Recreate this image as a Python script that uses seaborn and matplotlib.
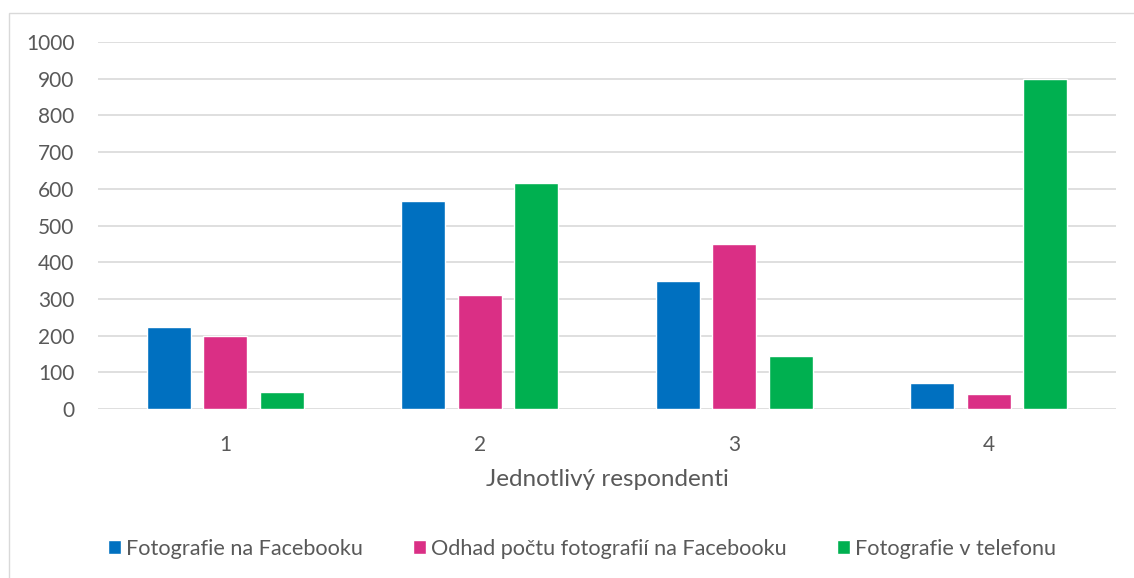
import pandas as pd
import seaborn as sns
import matplotlib.pyplot as plt
from matplotlib.patches import Rectangle

# data
respondents = ['1', '2', '3', '4']
series_names = ['Fotografie na Facebooku', 'Odhad počtu fotografií na Facebooku', 'Fotografie v telefonu']
fb_photos = [223, 568, 350, 70]
fb_estimate = [200, 310, 450, 40]
phone_photos = [45, 617, 145, 900]
colors = ['#0070C0', '#DA2F85', '#00B050']

rows = []
for name, vals in zip(series_names, [fb_photos, fb_estimate, phone_photos]):
    for r, v in zip(respondents, vals):
        rows.append({'Respondent': r, 'Series': name, 'Value': v})
df = pd.DataFrame(rows)

sns.set_style('white')
plt.rcParams['font.family'] = ['Lato', 'DejaVu Sans']

fig = plt.figure(figsize=(11.34, 5.78), dpi=100)
ax = fig.add_axes([98 / 1134, 1 - 409 / 578, (1116 - 98) / 1134, (409 - 42) / 578])

sns.barplot(data=df, x='Respondent', y='Value', hue='Series', palette=colors,
            saturation=1, width=0.666, gap=0.22, ax=ax, legend=True)

ax.set_ylim(0, 1000)
ax.set_xlim(-0.5, 3.5)
ax.set_yticks(range(0, 1001, 100))
ax.yaxis.grid(True, color='#d9d9d9', linewidth=1.2)
ax.set_axisbelow(True)
for s in ax.spines.values():
    s.set_visible(False)
ax.tick_params(axis='both', length=0, labelsize=15, colors='#595959')
ax.tick_params(axis='y', pad=17)
ax.tick_params(axis='x', pad=18.5)
ax.set_xlabel('Jednotlivý respondenti', fontsize=17.5, color='#595959', labelpad=10)
ax.set_ylabel('')

handles, labels = ax.get_legend_handles_labels()
ax.legend(handles, labels, loc='center', bbox_to_anchor=(582 / 1134, 1 - 549 / 578),
          bbox_transform=fig.transFigure, ncol=3, frameon=False, fontsize=15.6,
          labelcolor='#595959', handlelength=0.6, handleheight=0.6,
          handletextpad=0.25, columnspacing=2.3)

# chart border
fig.patches.append(Rectangle((9 / 1134, -0.01), 1.02, 1 - 13 / 578 + 0.01,
                             transform=fig.transFigure, fill=False,
                             edgecolor='#d9d9d9', linewidth=1))

fig.savefig('out.png', dpi=100)
